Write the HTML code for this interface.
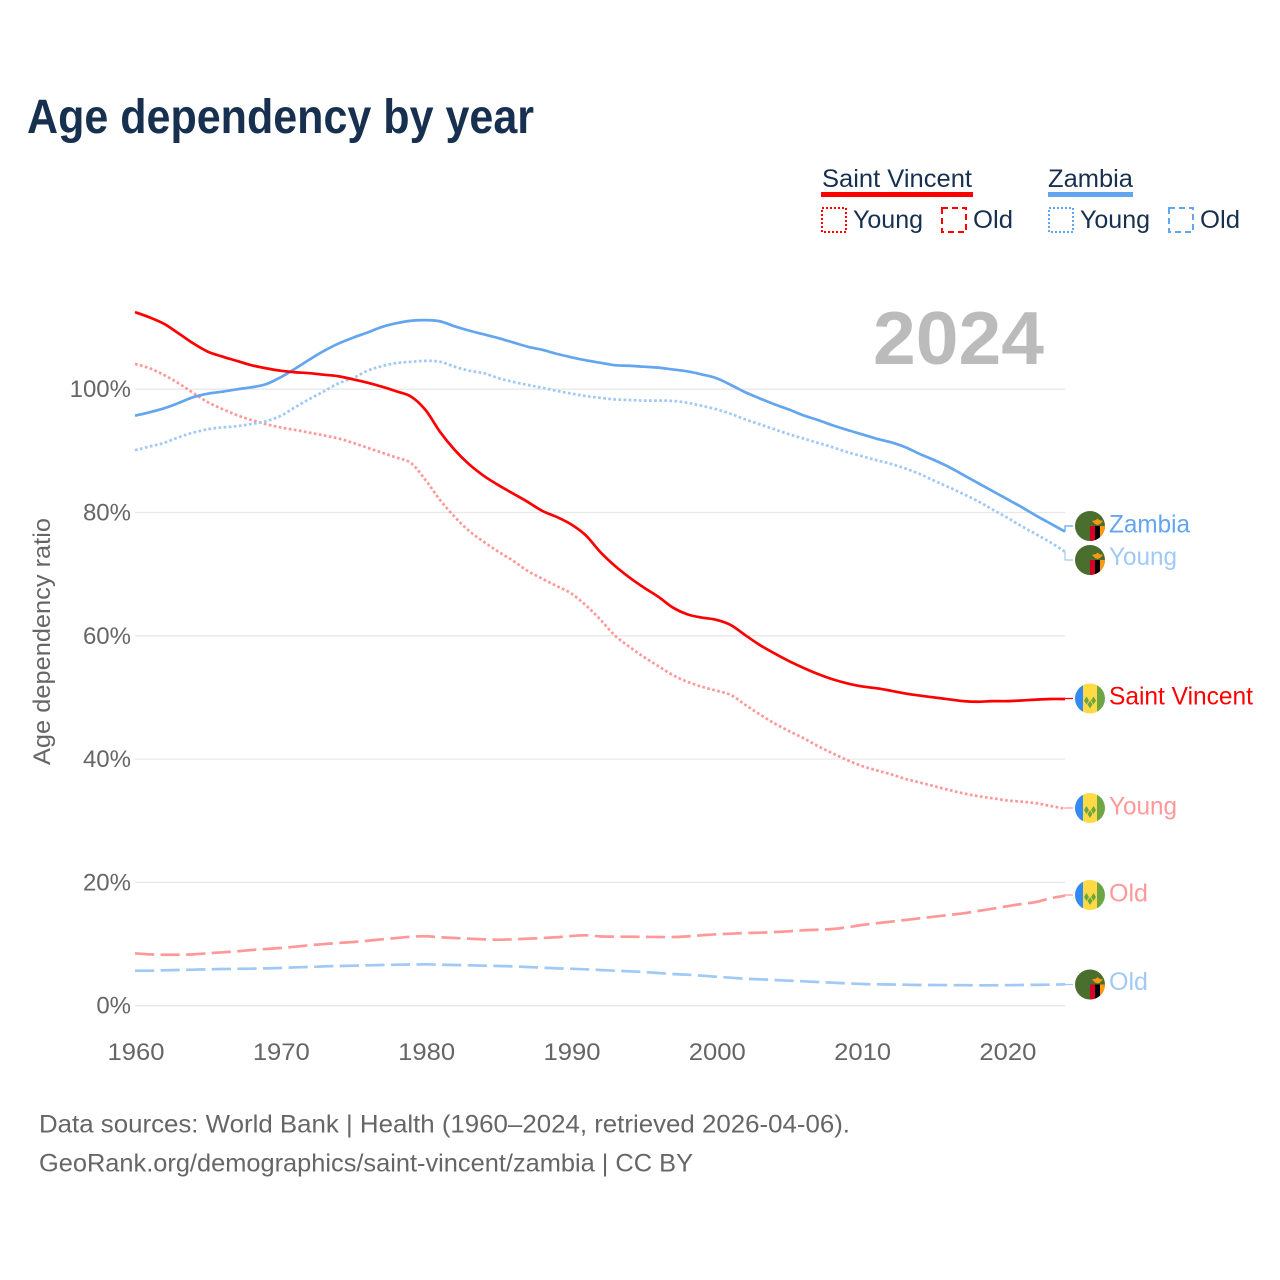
<!DOCTYPE html>
<html lang="en">
<head>
<meta charset="utf-8">
<title>Age dependency by year</title>
<style>
html,body{margin:0;padding:0;background:#fff;}
svg{display:block;}
text{font-family:"Liberation Sans",Arial,sans-serif;}
</style>
</head>
<body>
<svg id="chart" xmlns="http://www.w3.org/2000/svg" width="1280" height="1280" viewBox="0 0 1280 1280">
  <rect width="1280" height="1280" fill="#ffffff"/>
  <text x="27" y="133" font-size="48" font-weight="700" fill="#17304f" textLength="507" lengthAdjust="spacingAndGlyphs">Age dependency by year</text>

  <g>
    <g>
      <text x="822" y="187" font-size="25" fill="#17304f" textLength="150" lengthAdjust="spacingAndGlyphs">Saint Vincent</text>
      <rect x="821" y="192" width="152" height="5" fill="#ff0000"/>
      <rect x="822" y="208" width="24" height="24" fill="none" stroke="#ff0000" stroke-width="2" stroke-dasharray="2 2"/>
      <text x="853" y="228" font-size="25" fill="#17304f" textLength="70" lengthAdjust="spacingAndGlyphs">Young</text>
      <rect x="942" y="208" width="24" height="24" fill="none" stroke="#ff0000" stroke-width="2" stroke-dasharray="6 4"/>
      <text x="973" y="228" font-size="25" fill="#17304f" textLength="40" lengthAdjust="spacingAndGlyphs">Old</text>
    </g>
    <g>
      <text x="1048" y="187" font-size="25" fill="#17304f" textLength="85" lengthAdjust="spacingAndGlyphs">Zambia</text>
      <rect x="1048" y="192" width="85" height="5" fill="#63a5ee"/>
      <rect x="1049" y="208" width="24" height="24" fill="none" stroke="#63a5ee" stroke-width="2" stroke-dasharray="2 2"/>
      <text x="1080" y="228" font-size="25" fill="#17304f" textLength="70" lengthAdjust="spacingAndGlyphs">Young</text>
      <rect x="1169" y="208" width="24" height="24" fill="none" stroke="#63a5ee" stroke-width="2" stroke-dasharray="6 4"/>
      <text x="1200" y="228" font-size="25" fill="#17304f" textLength="40" lengthAdjust="spacingAndGlyphs">Old</text>
    </g>
  </g>

  <text transform="translate(50 765) rotate(-90)" font-size="24" fill="#666666" textLength="247" lengthAdjust="spacingAndGlyphs">Age dependency ratio</text>
  <g id="grid"></g>
  <g id="yticks"></g>
  <g id="xticks"></g>
  <text x="873" y="364" font-size="75" font-weight="700" fill="#bbbbbb" textLength="171" lengthAdjust="spacingAndGlyphs">2024</text>
  <g id="series"></g>

  <defs>
    <clipPath id="fc1"><circle cx="1090" cy="526" r="15"/></clipPath>
    <clipPath id="fc2"><circle cx="1090" cy="560" r="15"/></clipPath>
    <clipPath id="fc3"><circle cx="1090" cy="698.5" r="15"/></clipPath>
    <clipPath id="fc4"><circle cx="1090" cy="808" r="15"/></clipPath>
    <clipPath id="fc5"><circle cx="1090" cy="895" r="15"/></clipPath>
    <clipPath id="fc6"><circle cx="1090" cy="984.5" r="15"/></clipPath>
  </defs>

  <g clip-path="url(#fc1)">
    <rect x="1075" y="511" width="30" height="30" fill="#496e2d"/>
    <rect x="1090" y="526" width="5" height="15" fill="#d80027"/>
    <rect x="1095" y="526" width="5" height="15" fill="#000000"/>
    <rect x="1100" y="526" width="5" height="15" fill="#ff9811"/>
    <path d="M1092 521L1096 520L1097.5 518.5L1099 520L1103 521L1100 524L1097.5 525L1095 524Z" fill="#ff9811"/>
  </g>
  <g clip-path="url(#fc2)">
    <rect x="1075" y="545" width="30" height="30" fill="#496e2d"/>
    <rect x="1090" y="560" width="5" height="15" fill="#d80027"/>
    <rect x="1095" y="560" width="5" height="15" fill="#000000"/>
    <rect x="1100" y="560" width="5" height="15" fill="#ff9811"/>
    <path d="M1092 555L1096 554L1097.5 552.5L1099 554L1103 555L1100 558L1097.5 559L1095 558Z" fill="#ff9811"/>
  </g>
  <g clip-path="url(#fc3)">
    <rect x="1075" y="683.5" width="8" height="30" fill="#338af3"/>
    <rect x="1083" y="683.5" width="14" height="30" fill="#ffda44"/>
    <rect x="1097" y="683.5" width="8" height="30" fill="#6da544"/>
    <path d="M1086.5 696.5l2.500 4-2.500 4-2.500-4zM1093.5 696.5l2.500 4-2.500 4-2.500-4zM1090 700.5l2.500 4-2.500 4-2.500-4z" fill="#6da544"/>
  </g>
  <g clip-path="url(#fc4)">
    <rect x="1075" y="793" width="8" height="30" fill="#338af3"/>
    <rect x="1083" y="793" width="14" height="30" fill="#ffda44"/>
    <rect x="1097" y="793" width="8" height="30" fill="#6da544"/>
    <path d="M1086.5 806l2.500 4-2.500 4-2.500-4zM1093.5 806l2.500 4-2.500 4-2.500-4zM1090 810l2.500 4-2.500 4-2.500-4z" fill="#6da544"/>
  </g>
  <g clip-path="url(#fc5)">
    <rect x="1075" y="880" width="8" height="30" fill="#338af3"/>
    <rect x="1083" y="880" width="14" height="30" fill="#ffda44"/>
    <rect x="1097" y="880" width="8" height="30" fill="#6da544"/>
    <path d="M1086.5 893l2.500 4-2.500 4-2.500-4zM1093.5 893l2.500 4-2.500 4-2.500-4zM1090 897l2.500 4-2.500 4-2.500-4z" fill="#6da544"/>
  </g>
  <g clip-path="url(#fc6)">
    <rect x="1075" y="969.5" width="30" height="30" fill="#496e2d"/>
    <rect x="1090" y="984.5" width="5" height="15" fill="#d80027"/>
    <rect x="1095" y="984.5" width="5" height="15" fill="#000000"/>
    <rect x="1100" y="984.5" width="5" height="15" fill="#ff9811"/>
    <path d="M1092 979.5L1096 978.5L1097.5 977L1099 978.5L1103 979.5L1100 982.5L1097.5 983.5L1095 982.5Z" fill="#ff9811"/>
  </g>

  <g font-size="25">
    <text x="1109" y="532.5" fill="#63a5ee" textLength="81" lengthAdjust="spacingAndGlyphs">Zambia</text>
    <text x="1109" y="565" fill="#a1c9f5" textLength="68" lengthAdjust="spacingAndGlyphs">Young</text>
    <text x="1109" y="704.5" fill="#ff0000" textLength="144" lengthAdjust="spacingAndGlyphs">Saint Vincent</text>
    <text x="1109" y="814.5" fill="#ff9999" textLength="68" lengthAdjust="spacingAndGlyphs">Young</text>
    <text x="1109" y="901.5" fill="#ff9999" textLength="39" lengthAdjust="spacingAndGlyphs">Old</text>
    <text x="1109" y="990" fill="#a1c9f5" textLength="39" lengthAdjust="spacingAndGlyphs">Old</text>
  </g>

  <text x="39" y="1132.5" font-size="25" fill="#666666" textLength="811" lengthAdjust="spacingAndGlyphs">Data sources: World Bank | Health (1960–2024, retrieved 2026-04-06).</text>
  <text x="39" y="1171.5" font-size="25" fill="#666666" textLength="654" lengthAdjust="spacingAndGlyphs">GeoRank.org/demographics/saint-vincent/zambia | CC BY</text>
</svg>

<script>
const years = [1960,1961,1962,1963,1964,1965,1966,1967,1968,1969,1970,1971,1972,1973,1974,1975,1976,1977,1978,1979,1980,1981,1982,1983,1984,1985,1986,1987,1988,1989,1990,1991,1992,1993,1994,1995,1996,1997,1998,1999,2000,2001,2002,2003,2004,2005,2006,2007,2008,2009,2010,2011,2012,2013,2014,2015,2016,2017,2018,2019,2020,2021,2022,2023,2024];

const saintVincentTotal = [112.5,111.65,110.6,109.05,107.45,106.1,105.3,104.6,103.9,103.4,103.0,102.75,102.6,102.35,102.1,101.6,101.05,100.4,99.65,98.8,96.6,93.05,90.15,87.8,85.95,84.45,83.1,81.75,80.3,79.3,78.1,76.35,73.65,71.4,69.5,67.85,66.35,64.6,63.5,62.95,62.6,61.75,60.1,58.5,57.15,55.9,54.8,53.8,52.95,52.3,51.8,51.5,51.1,50.65,50.3,50.0,49.7,49.4,49.3,49.4,49.4,49.5,49.65,49.75,49.75];

const saintVincentYoung = [104.1,103.4,102.3,100.95,99.4,97.9,96.8,95.8,95.0,94.35,93.8,93.4,92.95,92.5,92.0,91.3,90.5,89.7,88.9,88.0,85.25,82.0,79.3,77.0,75.25,73.65,72.2,70.55,69.3,68.1,66.9,65.0,62.7,60.1,58.25,56.6,55.1,53.65,52.55,51.75,51.1,50.4,48.8,47.25,45.8,44.55,43.4,42.1,40.95,39.85,38.9,38.2,37.55,36.8,36.2,35.6,35.0,34.45,34.0,33.65,33.3,33.1,32.85,32.4,31.95];

const saintVincentOld = [8.5,8.33,8.27,8.27,8.33,8.5,8.66,8.82,9.03,9.2,9.36,9.57,9.8,10.0,10.17,10.33,10.54,10.77,10.98,11.19,11.26,11.1,10.98,10.87,10.77,10.7,10.77,10.87,10.98,11.1,11.3,11.42,11.25,11.2,11.19,11.17,11.14,11.14,11.25,11.42,11.58,11.68,11.79,11.84,11.95,12.07,12.23,12.33,12.44,12.71,13.09,13.36,13.63,13.9,14.17,14.44,14.71,14.98,15.36,15.73,16.12,16.5,16.82,17.42,17.84];

const zambiaTotal = [95.7,96.25,96.9,97.76,98.7,99.27,99.6,99.98,100.3,100.8,101.9,103.3,104.8,106.2,107.4,108.35,109.2,110.1,110.7,111.1,111.2,111.0,110.2,109.5,108.9,108.3,107.6,106.9,106.4,105.75,105.2,104.7,104.3,103.9,103.8,103.65,103.5,103.2,102.9,102.4,101.8,100.7,99.5,98.5,97.55,96.7,95.75,95.0,94.15,93.4,92.7,92.0,91.4,90.6,89.5,88.5,87.4,86.1,84.8,83.5,82.2,80.9,79.5,78.2,76.9];

const zambiaYoung = [90.1,90.7,91.3,92.2,92.95,93.5,93.8,94.0,94.35,94.8,95.65,97.05,98.4,99.65,100.95,101.8,103.0,103.75,104.25,104.45,104.6,104.45,103.65,103.0,102.6,101.8,101.2,100.7,100.25,99.75,99.3,98.9,98.6,98.35,98.25,98.15,98.15,98.1,97.8,97.3,96.75,96.0,95.1,94.3,93.5,92.7,92.0,91.3,90.6,89.8,89.15,88.5,87.9,87.15,86.25,85.15,84.1,83.0,81.85,80.5,79.2,77.8,76.5,75.15,73.65];

const zambiaOld = [5.68,5.68,5.74,5.79,5.84,5.9,5.95,5.98,6.0,6.06,6.11,6.22,6.28,6.38,6.44,6.49,6.55,6.6,6.65,6.68,6.71,6.65,6.6,6.55,6.49,6.44,6.38,6.28,6.17,6.06,6.0,5.9,5.79,5.68,5.58,5.47,5.3,5.14,5.03,4.87,4.7,4.54,4.38,4.28,4.17,4.06,3.96,3.84,3.73,3.63,3.52,3.47,3.44,3.41,3.36,3.36,3.33,3.33,3.31,3.31,3.33,3.36,3.38,3.41,3.47];

const yTickValues = [0,20,40,60,80,100];
const xTickValues = [1960,1970,1980,1990,2000,2010,2020];

const NS = 'http://www.w3.org/2000/svg';
function xScale(year){ return 135 + (year - 1960) * (930 / 64); }
function yScale(v){ return 1005.7 - v * 6.165; }

function make(tag, attrs, parent){
  const el = document.createElementNS(NS, tag);
  for (const k in attrs) el.setAttribute(k, attrs[k]);
  parent.appendChild(el);
  return el;
}

function smoothPath(points){
  let d = 'M' + points[0][0].toFixed(2) + ' ' + points[0][1].toFixed(2);
  for (let i = 0; i < points.length - 1; i++) {
    const p0 = points[Math.max(i - 1, 0)];
    const p1 = points[i];
    const p2 = points[i + 1];
    const p3 = points[Math.min(i + 2, points.length - 1)];
    const c1x = p1[0] + (p2[0] - p0[0]) / 6;
    const c1y = p1[1] + (p2[1] - p0[1]) / 6;
    const c2x = p2[0] - (p3[0] - p1[0]) / 6;
    const c2y = p2[1] - (p3[1] - p1[1]) / 6;
    d += 'C' + c1x.toFixed(2) + ' ' + c1y.toFixed(2) + ' ' + c2x.toFixed(2) + ' ' + c2y.toFixed(2) + ' ' + p2[0].toFixed(2) + ' ' + p2[1].toFixed(2);
  }
  return d;
}

const gridGroup = document.getElementById('grid');
const yTickGroup = document.getElementById('yticks');
const xTickGroup = document.getElementById('xticks');
const seriesGroup = document.getElementById('series');

yTickValues.forEach(function(v){
  const line = make('line', {x1:135, x2:1065, y1:yScale(v), y2:yScale(v), stroke:'#e8e8e8', 'stroke-width':1.3}, gridGroup);
  
  
  const label = make('text', {x:131, y:yScale(v) + 8, 'text-anchor':'end', 'font-size':24, fill:'#666666'}, yTickGroup);
  label.textContent = v + '%';
  
  
});

xTickValues.forEach(function(year){
  const label = make('text', {x:xScale(year) + 1, y:1060, 'text-anchor':'middle', 'font-size':24, fill:'#666666', textLength:57, lengthAdjust:'spacingAndGlyphs'}, xTickGroup);
  label.textContent = String(year);
  
  
});

function drawSeries(name, values, color, dash, width, flagY){
  const points = values.map(function(v, i){ return [xScale(years[i]), yScale(v)]; });
  const attrs = {d:smoothPath(points), fill:'none', stroke:color, 'stroke-width':width, 'stroke-linejoin':'round'};
  if (dash) attrs['stroke-dasharray'] = dash;
  const line = make('path', attrs, seriesGroup);
  
  
  const endX = xScale(years[years.length - 1]);
  const endY = yScale(values[values.length - 1]);
  const conn = make('polyline', {points:endX + ',' + endY + ' ' + endX + ',' + flagY + ' 1073,' + flagY, fill:'none', stroke:color, 'stroke-width':1.2}, seriesGroup);
  
  
}

drawSeries('saint-vincent-young', saintVincentYoung, '#ff9999', '2.7 2.4', 2.7, 808);
drawSeries('saint-vincent-old', saintVincentOld, '#ff9999', '19.2 6.4', 2.7, 895);
drawSeries('zambia-young', zambiaYoung, '#a1c9f5', '2.7 2.4', 2.7, 560);
drawSeries('zambia-old', zambiaOld, '#a1c9f5', '19.2 6.4', 2.7, 984.5);
drawSeries('zambia-total', zambiaTotal, '#63a5ee', '', 2.7, 526);
drawSeries('saint-vincent-total', saintVincentTotal, '#ff0000', '', 2.7, 698.5);
</script>
</body>
</html>
